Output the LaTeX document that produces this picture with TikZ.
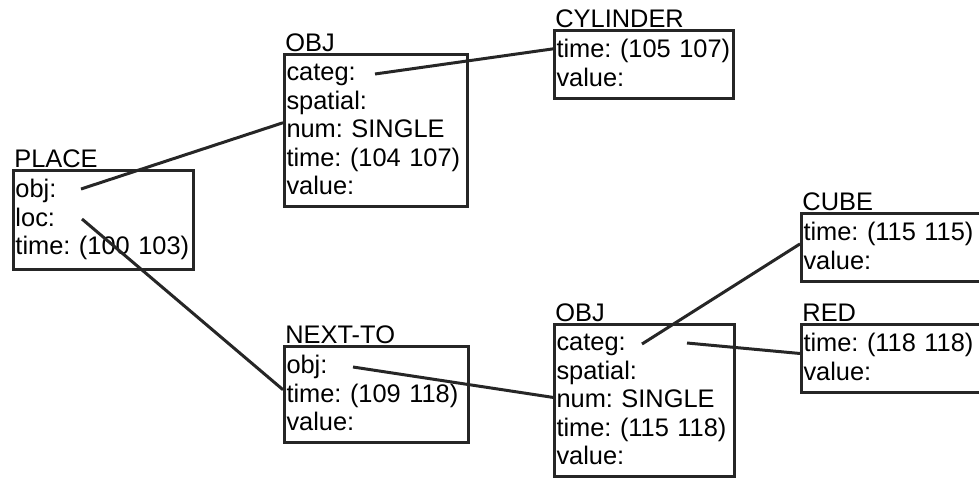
\documentclass[tikz,border=0pt]{standalone}
\usepackage{fontspec}
\setmainfont{Liberation Sans}
\usetikzlibrary{positioning,calc}
\definecolor{frameInk}{RGB}{38,38,38}
\newcommand\rowstrut{\rule[-1.5pt]{0pt}{10pt}}
\tikzset{
  framebox/.style={
    draw=frameInk,
    line width=1.5pt,
    anchor=north west,
    align=left,
    inner xsep=1pt,
    inner ysep=4.5pt,
    text width=#1,
    font=\fontsize{12.7}{14.25}\selectfont\frenchspacing,
    execute at begin node=\rowstrut,
    execute at end node=\rowstrut
  },
  framebox/.default=88pt,
  frametitle/.style={
    inner sep=0pt,
    font=\fontsize{12.7}{14.25}\selectfont
  },
  slotlink/.style={
    draw=frameInk,
    line width=1.5pt
  }
}
\begin{document}
\begin{tikzpicture}[x=0.5pt,y=-0.5pt]
  \useasboundingbox (0,0) rectangle (979,477);

  % frames
  \node[framebox=88pt] (place) at (12,169) {obj:\\loc:\\time: (100 103)};
  \node[framebox=89.5pt] (objA) at (283,53)
    {categ:\\spatial:\\num: SINGLE\\time: (104 107)\\value:};
  \node[framebox=87.5pt] (cylinder) at (553,29) {time: (105 107)\\value:};
  \node[framebox=90pt] (nextto) at (283,345) {obj:\\time: (109 118)\\value:};
  \node[framebox=88pt] (objB) at (553,323)
    {categ:\\spatial:\\num: SINGLE\\time: (115 118)\\value:};
  \node[framebox=90.5pt] (cube) at (800,212) {time: (115 115)\\value:};
  \node[framebox=90.5pt] (red) at (800,323) {time: (118 118)\\value:};

  % titles
  \node[frametitle, above right=0.5pt and 1pt of place.north west] (placeTitle) {PLACE};
  \node[frametitle, above right=0.5pt and 1pt of objA.north west] (objATitle) {OBJ};
  \node[frametitle, above right=0.5pt and 1pt of cylinder.north west] (cylinderTitle) {CYLINDER};
  \node[frametitle, above right=0.5pt and 1pt of nextto.north west] (nexttoTitle) {NEXT-TO};
  \node[frametitle, above right=0.5pt and 1pt of objB.north west] (objBTitle) {OBJ};
  \node[frametitle, above right=0.5pt and 1pt of cube.north west] (cubeTitle) {CUBE};
  \node[frametitle, above right=0.5pt and 1pt of red.north west] (redTitle) {RED};

  % slot ends
  \coordinate (placeObj) at ($(place.north west)+(69,20)$);
  \coordinate (placeLoc) at ($(place.north west)+(70,50)$);
  \coordinate (objACateg) at ($(objA.north west)+(92,21)$);
  \coordinate (nexttoObj) at ($(nextto.north west)+(70,22)$);
  \coordinate (objBCategA) at ($(objB.north west)+(89,21)$);
  \coordinate (objBCategB) at ($(objB.north west)+(134,20)$);

  % links
  \draw[slotlink] (placeObj) -- ($(objA.north west)!0.45!(objA.south west)$);
  \draw[slotlink] (placeLoc) -- ($(nextto.north west)!0.45!(nextto.south west)$);
  \draw[slotlink] (objACateg) -- ($(cylinder.north west)!0.28!(cylinder.south west)$);
  \draw[slotlink] (nexttoObj) -- ($(objB.north west)!0.48!(objB.south west)$);
  \draw[slotlink] (objBCategA) -- ($(cube.north west)!0.45!(cube.south west)$);
  \draw[slotlink] (objBCategB) -- ($(red.north west)!0.43!(red.south west)$);
\end{tikzpicture}
\end{document}
